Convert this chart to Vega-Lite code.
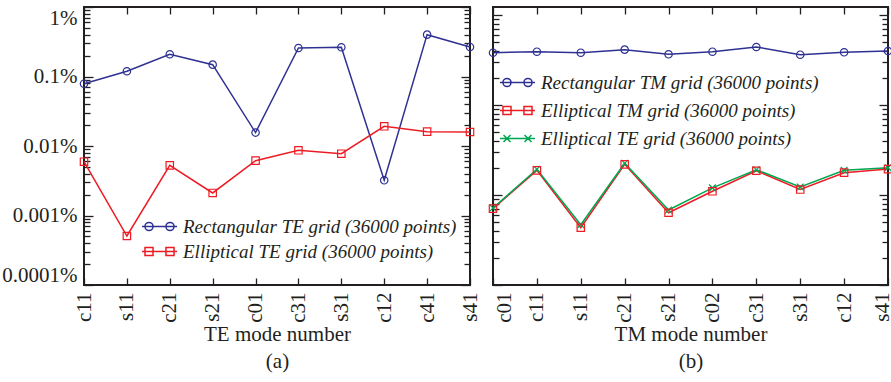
{
  "$schema": "https://vega.github.io/schema/vega-lite/v6.json",
  "padding": {"left": 0, "top": 5, "right": 0, "bottom": 5},
  "config": {
    "font": "Liberation Serif",
    "view": {"stroke": "#231f20", "strokeWidth": 2},
    "axis": {"domain": false, "grid": false, "labelFont": "Liberation Serif", "labelFontSize": 21, "labelColor": "#231f20", "tickColor": "#231f20", "tickWidth": 1.3, "titleFont": "Liberation Serif", "titleFontWeight": "normal", "titleFontSize": 21, "titleColor": "#231f20", "labelOverlap": false},
    "legend": {"labelFont": "Liberation Serif", "labelFontStyle": "italic", "labelFontSize": 19, "labelColor": "#231f20", "labelLimit": 400, "symbolStrokeWidth": 1.5, "symbolSize": 306, "labelOffset": 14, "symbolOpacity": 1}
  },
  "datasets": {
    "te": [
      {"mode": "c11", "series": "Rectangular TE grid (36000 points)", "value": 0.0788},
      {"mode": "s11", "series": "Rectangular TE grid (36000 points)", "value": 0.119},
      {"mode": "c21", "series": "Rectangular TE grid (36000 points)", "value": 0.209},
      {"mode": "s21", "series": "Rectangular TE grid (36000 points)", "value": 0.148},
      {"mode": "c01", "series": "Rectangular TE grid (36000 points)", "value": 0.0156},
      {"mode": "c31", "series": "Rectangular TE grid (36000 points)", "value": 0.257},
      {"mode": "s31", "series": "Rectangular TE grid (36000 points)", "value": 0.263},
      {"mode": "c12", "series": "Rectangular TE grid (36000 points)", "value": 0.00321},
      {"mode": "c41", "series": "Rectangular TE grid (36000 points)", "value": 0.400},
      {"mode": "s41", "series": "Rectangular TE grid (36000 points)", "value": 0.266},
      {"mode": "c11", "series": "Elliptical TE grid (36000 points)", "value": 0.00594},
      {"mode": "s11", "series": "Elliptical TE grid (36000 points)", "value": 0.000507},
      {"mode": "c21", "series": "Elliptical TE grid (36000 points)", "value": 0.00527},
      {"mode": "s21", "series": "Elliptical TE grid (36000 points)", "value": 0.00211},
      {"mode": "c01", "series": "Elliptical TE grid (36000 points)", "value": 0.00615},
      {"mode": "c31", "series": "Elliptical TE grid (36000 points)", "value": 0.00867},
      {"mode": "s31", "series": "Elliptical TE grid (36000 points)", "value": 0.00775},
      {"mode": "c12", "series": "Elliptical TE grid (36000 points)", "value": 0.0192},
      {"mode": "c41", "series": "Elliptical TE grid (36000 points)", "value": 0.0161},
      {"mode": "s41", "series": "Elliptical TE grid (36000 points)", "value": 0.0159}
    ],
    "tm": [
      {"mode": "c01", "series": "Rectangular TM grid (36000 points)", "value": 0.0381},
      {"mode": "c11", "series": "Rectangular TM grid (36000 points)", "value": 0.0391},
      {"mode": "s11", "series": "Rectangular TM grid (36000 points)", "value": 0.0381},
      {"mode": "c21", "series": "Rectangular TM grid (36000 points)", "value": 0.0412},
      {"mode": "s21", "series": "Rectangular TM grid (36000 points)", "value": 0.0366},
      {"mode": "c02", "series": "Rectangular TM grid (36000 points)", "value": 0.0391},
      {"mode": "c31", "series": "Rectangular TM grid (36000 points)", "value": 0.0441},
      {"mode": "s31", "series": "Rectangular TM grid (36000 points)", "value": 0.0362},
      {"mode": "c12", "series": "Rectangular TM grid (36000 points)", "value": 0.0385},
      {"mode": "s41", "series": "Rectangular TM grid (36000 points)", "value": 0.0398},
      {"mode": "c01", "series": "Elliptical TM grid (36000 points)", "value": 0.000705},
      {"mode": "c11", "series": "Elliptical TM grid (36000 points)", "value": 0.00188},
      {"mode": "s11", "series": "Elliptical TM grid (36000 points)", "value": 0.000433},
      {"mode": "c21", "series": "Elliptical TM grid (36000 points)", "value": 0.00219},
      {"mode": "s21", "series": "Elliptical TM grid (36000 points)", "value": 0.000635},
      {"mode": "c02", "series": "Elliptical TM grid (36000 points)", "value": 0.00110},
      {"mode": "c31", "series": "Elliptical TM grid (36000 points)", "value": 0.00186},
      {"mode": "s31", "series": "Elliptical TM grid (36000 points)", "value": 0.00115},
      {"mode": "c12", "series": "Elliptical TM grid (36000 points)", "value": 0.00177},
      {"mode": "s41", "series": "Elliptical TM grid (36000 points)", "value": 0.00194},
      {"mode": "c01", "series": "Elliptical TE grid (36000 points)", "value": 0.000717},
      {"mode": "c11", "series": "Elliptical TE grid (36000 points)", "value": 0.00193},
      {"mode": "s11", "series": "Elliptical TE grid (36000 points)", "value": 0.000468},
      {"mode": "c21", "series": "Elliptical TE grid (36000 points)", "value": 0.00225},
      {"mode": "s21", "series": "Elliptical TE grid (36000 points)", "value": 0.000681},
      {"mode": "c02", "series": "Elliptical TE grid (36000 points)", "value": 0.00120},
      {"mode": "c31", "series": "Elliptical TE grid (36000 points)", "value": 0.00191},
      {"mode": "s31", "series": "Elliptical TE grid (36000 points)", "value": 0.00123},
      {"mode": "c12", "series": "Elliptical TE grid (36000 points)", "value": 0.00188},
      {"mode": "s41", "series": "Elliptical TE grid (36000 points)", "value": 0.00201}
    ]
  },
  "hconcat": [
    {
      "width": 386,
      "height": 278,
      "data": {"name": "te"},
      "encoding": {
        "x": {"field": "mode", "type": "nominal", "sort": ["c11","s11","c21","s21","c01","c31","s31","c12","c41","s41"], "scale": {"type": "point", "padding": 0}, "axis": null},
        "y": {"field": "value", "type": "quantitative", "scale": {"type": "log", "domain": [0.0001, 1], "nice": false}, "axis": null},
        "color": {"field": "series", "type": "nominal", "scale": {"domain": ["Rectangular TE grid (36000 points)", "Elliptical TE grid (36000 points)"], "range": ["#2e3192", "#ed1c24"]}, "legend": null}
      },
      "layer": [
        {
          "transform": [{"filter": "datum.mode == 'c21'"}],
          "mark": {"type": "point", "filled": false, "strokeWidth": 1.5, "size": 306, "opacity": 0},
          "encoding": {
            "x": {"field": "mode", "type": "nominal", "sort": ["c11","s11","c21","s21","c01","c31","s31","c12","c41","s41"],
                  "axis": {"orient": "bottom", "labelAngle": -90, "labelPadding": 7, "ticks": false, "title": ["TE mode number", "(a)"], "titleLineHeight": 27, "titlePadding": 1}},
            "y": {"field": "value", "type": "quantitative",
                  "axis": {"orient": "left", "title": null, "ticks": false, "labelPadding": 7, "labelFlush": true, "values": [0.0001, 0.001, 0.01, 0.1, 1], "labelExpr": "datum.value + '%'"}},
            "color": {"field": "series", "type": "nominal", "legend": {"title": null, "orient": "none", "legendX": 66, "legendY": 210, "rowPadding": 5, "symbolOpacity": 1}},
            "shape": {"field": "series", "type": "nominal",
                      "scale": {"domain": ["Rectangular TE grid (36000 points)", "Elliptical TE grid (36000 points)"],
                                "range": ["M-2,0L2,0M-0.74,0A0.46,0.46 0 1,1 -1.66,0A0.46,0.46 0 1,1 -0.74,0M1.66,0A0.46,0.46 0 1,1 0.74,0A0.46,0.46 0 1,1 1.66,0",
                                          "M-2,0L2,0M-1.66,-0.46L-0.74,-0.46L-0.74,0.46L-1.66,0.46ZM0.74,-0.46L1.66,-0.46L1.66,0.46L0.74,0.46Z"]},
                      "legend": {"title": null, "orient": "none", "legendX": 66, "legendY": 210, "rowPadding": 5, "symbolOpacity": 1}}
          }
        },
        {
          "mark": {"type": "line", "strokeWidth": 1.5},
          "encoding": {
            "x": {"field": "mode", "type": "nominal", "sort": ["c11","s11","c21","s21","c01","c31","s31","c12","c41","s41"],
                  "axis": {"orient": "bottom", "labels": false, "tickSize": -7, "title": null, "minExtent": 0, "maxExtent": 0}},
            "y": {"field": "value", "type": "quantitative",
                  "axis": {"orient": "left", "title": null, "labels": false, "minExtent": 0, "maxExtent": 0,
                           "tickSize": {"condition": {"test": "indexof(['1','0.1','0.01','0.001','0.0001'], '' + datum.value) >= 0", "value": -9}, "value": -6}}}
          }
        },
        {
          "transform": [{"filter": "datum.series == 'Rectangular TE grid (36000 points)'"}],
          "mark": {"type": "point", "shape": "circle", "filled": false, "strokeWidth": 1.2, "size": 55, "opacity": 1},
          "encoding": {
            "x": {"field": "mode", "type": "nominal", "sort": ["c11","s11","c21","s21","c01","c31","s31","c12","c41","s41"],
                  "axis": {"orient": "top", "labels": false, "tickSize": -7, "title": null, "minExtent": 0, "maxExtent": 0}},
            "y": {"field": "value", "type": "quantitative",
                  "axis": {"orient": "right", "labels": false, "title": null, "minExtent": 0, "maxExtent": 0,
                           "tickSize": {"condition": {"test": "indexof(['1','0.1','0.01','0.001','0.0001'], '' + datum.value) >= 0", "value": -9}, "value": -6}}}
          }
        },
        {
          "transform": [{"filter": "datum.series == 'Elliptical TE grid (36000 points)'"}],
          "mark": {"type": "point", "shape": "square", "filled": false, "strokeWidth": 1.2, "size": 55, "opacity": 1}
        }
      ],
      "resolve": {"axis": {"x": "independent", "y": "independent"}}
    },
    {
      "width": 395,
      "height": 278,
      "data": {"name": "tm"},
      "encoding": {
        "x": {"field": "mode", "type": "nominal", "sort": ["c01","c11","s11","c21","s21","c02","c31","s31","c12","s41"], "scale": {"type": "point", "padding": 0}, "axis": null},
        "y": {"field": "value", "type": "quantitative", "scale": {"type": "log", "domain": [0.0001, 0.1227], "nice": false}, "axis": null},
        "color": {"field": "series", "type": "nominal", "scale": {"domain": ["Rectangular TM grid (36000 points)", "Elliptical TM grid (36000 points)", "Elliptical TE grid (36000 points)"], "range": ["#2e3192", "#ed1c24", "#00a651"]}, "legend": null}
      },
      "layer": [
        {
          "transform": [{"filter": "datum.mode == 'c21'"}],
          "mark": {"type": "point", "filled": false, "strokeWidth": 1.5, "size": 306, "opacity": 0},
          "encoding": {
            "x": {"field": "mode", "type": "nominal", "sort": ["c01","c11","s11","c21","s21","c02","c31","s31","c12","s41"],
                  "axis": {"orient": "bottom", "labelAngle": -90, "labelPadding": 7, "ticks": false, "title": ["TM mode number", "(b)"], "titleLineHeight": 27, "titlePadding": 1,
                           "labelBaseline": {"condition": [{"test": "datum.value == 's41'", "value": "alphabetic"}, {"test": "datum.value == 'c01'", "value": "top"}], "value": "middle"}}},
            "color": {"field": "series", "type": "nominal", "legend": {"title": null, "orient": "none", "legendX": 15, "legendY": 66, "rowPadding": 8, "symbolOpacity": 1}},
            "shape": {"field": "series", "type": "nominal",
                      "scale": {"domain": ["Rectangular TM grid (36000 points)", "Elliptical TM grid (36000 points)", "Elliptical TE grid (36000 points)"],
                                "range": ["M-2,0L2,0M-0.74,0A0.46,0.46 0 1,1 -1.66,0A0.46,0.46 0 1,1 -0.74,0M1.66,0A0.46,0.46 0 1,1 0.74,0A0.46,0.46 0 1,1 1.66,0",
                                          "M-2,0L2,0M-1.66,-0.46L-0.74,-0.46L-0.74,0.46L-1.66,0.46ZM0.74,-0.46L1.66,-0.46L1.66,0.46L0.74,0.46Z",
                                          "M-2,0L2,0M-1.6,-0.4L-0.8,0.4M-1.6,0.4L-0.8,-0.4M0.8,-0.4L1.6,0.4M0.8,0.4L1.6,-0.4"]},
                      "legend": {"title": null, "orient": "none", "legendX": 15, "legendY": 66, "rowPadding": 8, "symbolOpacity": 1}}
          }
        },
        {
          "transform": [{"filter": "datum.series != 'Rectangular TM grid (36000 points)'"}],
          "mark": {"type": "line", "strokeWidth": 1.5},
          "encoding": {
            "x": {"field": "mode", "type": "nominal", "sort": ["c01","c11","s11","c21","s21","c02","c31","s31","c12","s41"],
                  "axis": {"orient": "bottom", "labels": false, "tickSize": -7, "title": null, "minExtent": 0, "maxExtent": 0}},
            "y": {"field": "value", "type": "quantitative",
                  "axis": {"orient": "left", "title": null, "labels": false, "minExtent": 0, "maxExtent": 0,
                           "tickSize": {"condition": {"test": "indexof(['1','0.1','0.01','0.001','0.0001'], '' + datum.value) >= 0", "value": -9}, "value": -6}}}
          }
        },
        {
          "transform": [{"filter": "datum.series == 'Rectangular TM grid (36000 points)'"}],
          "mark": {"type": "line", "strokeWidth": 1.5}
        },
        {
          "transform": [{"filter": "datum.series == 'Rectangular TM grid (36000 points)'"}],
          "mark": {"type": "point", "shape": "circle", "filled": false, "strokeWidth": 1.2, "size": 55, "opacity": 1},
          "encoding": {
            "x": {"field": "mode", "type": "nominal", "sort": ["c01","c11","s11","c21","s21","c02","c31","s31","c12","s41"],
                  "axis": {"orient": "top", "labels": false, "tickSize": -7, "title": null, "minExtent": 0, "maxExtent": 0}},
            "y": {"field": "value", "type": "quantitative",
                  "axis": {"orient": "right", "labels": false, "title": null, "minExtent": 0, "maxExtent": 0,
                           "tickSize": {"condition": {"test": "indexof(['1','0.1','0.01','0.001','0.0001'], '' + datum.value) >= 0", "value": -9}, "value": -6}}}
          }
        },
        {
          "transform": [{"filter": "datum.series == 'Elliptical TE grid (36000 points)'"}],
          "mark": {"type": "point", "shape": "M-1,-1L1,1M-1,1L1,-1", "filled": false, "strokeWidth": 1.2, "size": 45, "opacity": 1}
        },
        {
          "transform": [{"filter": "datum.series == 'Elliptical TM grid (36000 points)'"}],
          "mark": {"type": "point", "shape": "square", "filled": false, "strokeWidth": 1.2, "size": 55, "opacity": 1}
        }
      ],
      "resolve": {"axis": {"x": "independent", "y": "independent"}}
    }
  ],
  "resolve": {"scale": {"color": "independent", "shape": "independent"}},
  "spacing": 4
}
